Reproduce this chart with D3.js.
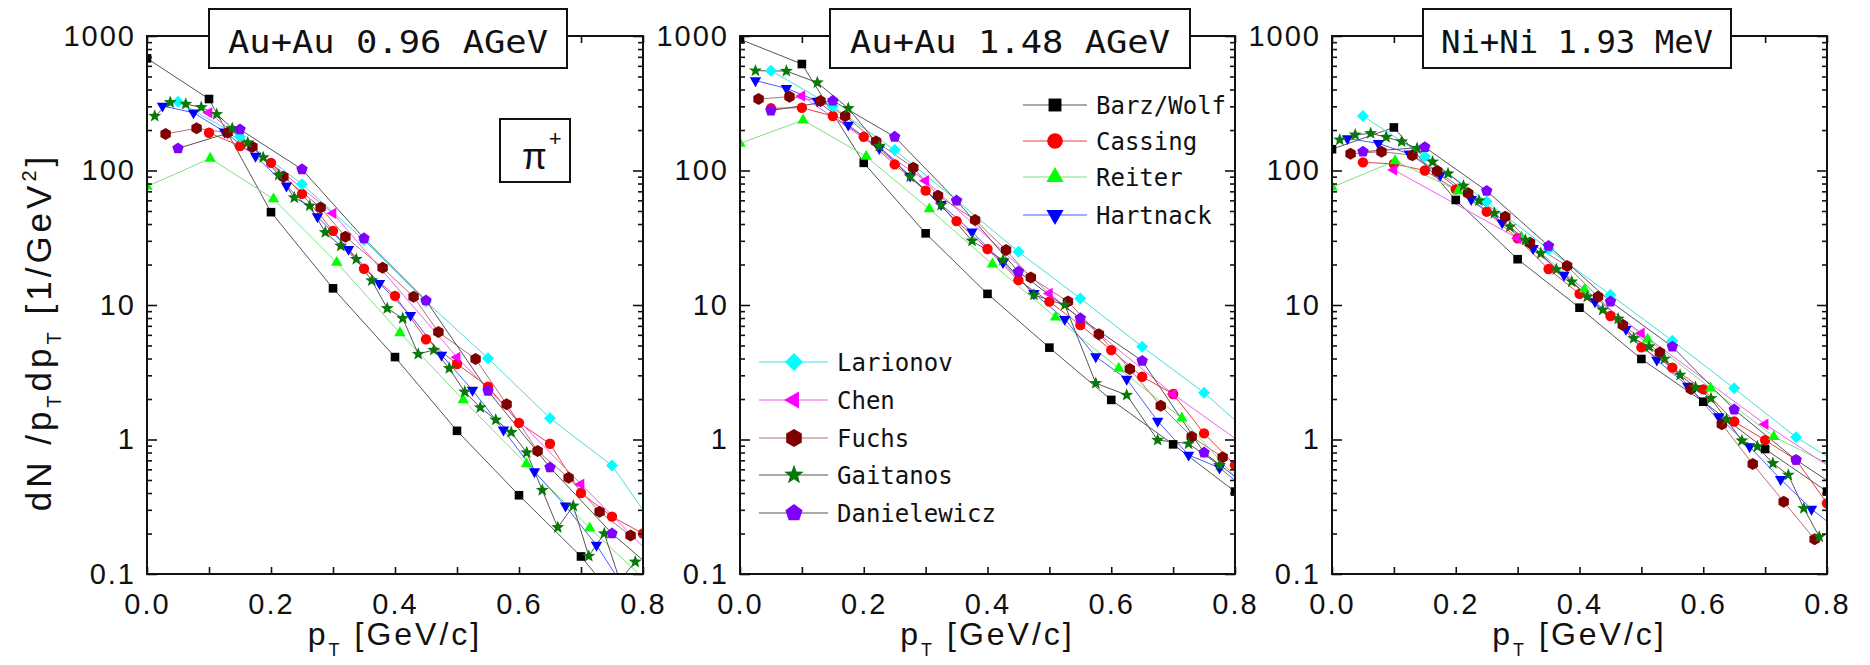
<!DOCTYPE html>
<html>
<head>
<meta charset="utf-8">
<script src="https://cdn.jsdelivr.net/npm/d3@7"></script>
<style>
  body { margin: 0; background: #ffffff; }
  svg { display: block; }
</style>
</head>
<body>
<svg id="chart" width="1870" height="665"></svg>
<script>
// ---- model names (legend order) ----
const modelNames = ["Barz/Wolf", "Cassing", "Reiter", "Hartnack", "Larionov",
                    "Chen", "Fuchs", "Gaitanos", "Danielewicz"];

// ---- panel titles ----
const panelTitles = ["Au+Au 0.96 AGeV", "Au+Au 1.48 AGeV", "Ni+Ni 1.93 MeV"];

// ---- axis ticks ----
const xTicks = [0, 0.1, 0.2, 0.3, 0.4, 0.5, 0.6, 0.7, 0.8];
const xLabelTicks = [0, 0.2, 0.4, 0.6, 0.8];
const yMajorTicks = [0.1, 1, 10, 100, 1000];

// ---- pi+ spectra, [pT (GeV/c), dN/pTdpT (1/GeV^2)] ----
// Au+Au 0.96 AGeV
const au096_barzWolf = [[0,682],[0.1,340],[0.2,49],[0.3,13.3],[0.4,4.1],[0.5,1.16],[0.6,0.385],[0.7,0.135],[0.8,0.037]];
const au096_cassing = [[0.1,191],[0.15,152],[0.2,114],[0.25,67],[0.3,35.6],[0.35,18.6],[0.4,11.7],[0.45,5.56],[0.5,3.64],[0.55,2.47],[0.6,1.33],[0.65,0.93],[0.7,0.40],[0.75,0.267],[0.8,0.2]];
const au096_reiter = [[0,76],[0.102,123],[0.204,61.4],[0.306,20.7],[0.408,6.2],[0.51,1.97],[0.612,0.657],[0.714,0.219],[0.816,0.08]];
const au096_hartnack = [[0.025,302],[0.075,269],[0.125,194],[0.175,128],[0.225,76.8],[0.275,45.4],[0.325,26],[0.375,14.5],[0.425,8.4],[0.475,4.25],[0.525,2.33],[0.575,1.18],[0.625,0.577],[0.675,0.321],[0.725,0.164],[0.775,0.072]];
const au096_larionov = [[0.05,325],[0.15,178],[0.25,79],[0.35,30.4],[0.45,10.6],[0.55,4.02],[0.65,1.44],[0.75,0.64],[0.85,0.14]];
const au096_chen = [[0.1,269],[0.3,48],[0.5,4.08],[0.7,0.465],[0.9,0.055]];
const au096_fuchs = [[0.03,187],[0.08,206],[0.13,191],[0.17,150],[0.22,90],[0.28,53],[0.32,32.2],[0.38,18.9],[0.43,11.5],[0.47,6.3],[0.53,3.97],[0.58,1.83],[0.63,0.82],[0.68,0.52],[0.73,0.29],[0.78,0.193]];
const au096_gaitanos = [[0.0125,254],[0.0375,321],[0.0625,312],[0.0875,295],[0.1125,262],[0.1375,206],[0.1625,161],[0.1875,125],[0.2125,92.7],[0.2375,62.8],[0.2625,54.7],[0.2875,34.7],[0.3125,27.5],[0.3375,21.9],[0.3625,15.2],[0.3875,9.44],[0.4125,7.96],[0.4375,4.32],[0.4625,4.63],[0.4875,3.38],[0.5125,2.26],[0.5375,1.73],[0.5625,1.40],[0.5875,1.13],[0.6125,0.80],[0.6375,0.42],[0.6625,0.222],[0.6875,0.321],[0.7125,0.136],[0.7375,0.20],[0.7625,0.09],[0.7875,0.123]];
const au096_danielewicz = [[0.05,146],[0.15,202],[0.25,102],[0.35,31.3],[0.45,10.8],[0.55,2.30],[0.65,0.62],[0.75,0.20],[0.85,0.08]];

// Au+Au 1.48 AGeV
const au148_barzWolf = [[0,945],[0.1,619],[0.2,114],[0.3,34.1],[0.4,12.1],[0.5,4.82],[0.6,1.97],[0.7,0.92],[0.8,0.41]];
const au148_cassing = [[0.05,290],[0.1,293],[0.15,254],[0.2,178],[0.25,111],[0.3,70.8],[0.35,42],[0.4,26.1],[0.45,15.3],[0.5,10.6],[0.55,7.1],[0.6,4.62],[0.65,2.93],[0.7,2.18],[0.75,1.11],[0.8,0.645]];
const au148_reiter = [[0,159],[0.102,237],[0.204,127],[0.306,51.7],[0.408,20.1],[0.51,8.1],[0.612,3.38],[0.714,1.44],[0.816,0.44]];
const au148_hartnack = [[0.025,466],[0.075,408],[0.125,329],[0.175,218],[0.225,146],[0.275,91],[0.325,56],[0.375,35],[0.425,20.7],[0.475,12.2],[0.525,7.84],[0.575,4.13],[0.625,2.81],[0.675,1.37],[0.725,0.767],[0.775,0.616],[0.825,0.4]];
const au148_larionov = [[0.05,552],[0.15,300],[0.25,142],[0.35,60],[0.45,24.9],[0.55,11.2],[0.65,4.9],[0.75,2.23],[0.85,0.87]];
const au148_chen = [[0.1,358],[0.3,84],[0.5,12.2],[0.7,2.17],[0.9,0.48]];
const au148_fuchs = [[0.03,340],[0.08,354],[0.13,329],[0.17,254],[0.22,164],[0.28,105],[0.32,65],[0.38,42.9],[0.43,25.6],[0.47,16],[0.53,10.6],[0.58,6.05],[0.63,3.34],[0.68,1.78],[0.73,1.05],[0.78,0.738]];
const au148_gaitanos = [[0.025,552],[0.075,549],[0.125,450],[0.175,290],[0.225,152],[0.275,90],[0.325,55.3],[0.375,30],[0.425,21.6],[0.475,11.9],[0.525,10],[0.575,2.62],[0.625,2.14],[0.675,0.99],[0.725,0.93],[0.775,0.645]];
const au148_danielewicz = [[0.05,279],[0.15,330],[0.25,178],[0.35,59.7],[0.45,17.7],[0.55,7.96],[0.65,3.84],[0.75,0.80],[0.85,0.35]];

// Ni+Ni 1.93 AGeV
const ni193_barzWolf = [[0,144],[0.1,209],[0.2,60.4],[0.3,21.9],[0.4,9.55],[0.5,3.97],[0.6,1.91],[0.7,0.85],[0.8,0.41]];
const ni193_cassing = [[0.05,115],[0.1,112],[0.15,100],[0.2,72.4],[0.25,49.4],[0.3,31.3],[0.35,18.5],[0.4,12.1],[0.45,8.28],[0.5,4.84],[0.55,3.42],[0.6,2.36],[0.65,1.36],[0.7,0.99],[0.75,0.705],[0.8,0.336]];
const ni193_reiter = [[0,75],[0.102,118],[0.204,70.5],[0.306,32],[0.408,13.1],[0.51,5.56],[0.612,2.41],[0.714,1.05],[0.816,0.61]];
const ni193_hartnack = [[0.025,173],[0.075,159],[0.125,133],[0.175,92.7],[0.225,61.1],[0.275,40.9],[0.325,26.4],[0.375,16.7],[0.425,10.6],[0.475,6.6],[0.525,3.9],[0.575,2.5],[0.625,1.48],[0.675,0.885],[0.725,0.506],[0.775,0.304],[0.825,0.2]];
const ni193_larionov = [[0.05,254],[0.15,127],[0.25,58.7],[0.35,26],[0.45,11.9],[0.55,5.43],[0.65,2.4],[0.75,1.04],[0.85,0.54]];
const ni193_chen = [[0.1,101],[0.3,31.3],[0.5,6.17],[0.7,1.30],[0.9,0.32]];
const ni193_fuchs = [[0.03,133],[0.08,138],[0.13,130],[0.17,99],[0.22,67.7],[0.28,45.4],[0.32,29],[0.38,19.5],[0.43,11.5],[0.47,7.1],[0.53,4.44],[0.58,2.37],[0.63,1.30],[0.68,0.658],[0.73,0.345],[0.78,0.181]];
const ni193_gaitanos = [[0.0125,169],[0.0375,184],[0.0625,189],[0.0875,177],[0.1125,164],[0.1375,146],[0.1625,116],[0.1875,95],[0.2125,76.8],[0.2375,59.7],[0.2625,48.1],[0.2875,38.2],[0.3125,30.4],[0.3375,24.2],[0.3625,18.4],[0.3875,14.9],[0.4125,11.5],[0.4375,9.19],[0.4625,7.9],[0.4875,5.65],[0.5125,4.9],[0.5375,3.97],[0.5625,3.02],[0.5875,2.44],[0.6125,2.02],[0.6375,1.41],[0.6625,0.98],[0.6875,0.885],[0.7125,0.665],[0.7375,0.545],[0.7625,0.308],[0.7875,0.189]];
const ni193_danielewicz = [[0.05,138],[0.15,149],[0.25,70.5],[0.35,27.5],[0.45,10.6],[0.55,4.9],[0.65,1.67],[0.75,0.705],[0.85,0.35]];

const panelSeries = [
  [au096_barzWolf, au096_cassing, au096_reiter, au096_hartnack, au096_larionov, au096_chen, au096_fuchs, au096_gaitanos, au096_danielewicz],
  [au148_barzWolf, au148_cassing, au148_reiter, au148_hartnack, au148_larionov, au148_chen, au148_fuchs, au148_gaitanos, au148_danielewicz],
  [ni193_barzWolf, ni193_cassing, ni193_reiter, ni193_hartnack, ni193_larionov, ni193_chen, ni193_fuchs, ni193_gaitanos, ni193_danielewicz]
];

// ---- styles per model ----
const modelSymbols = ["square", "circle", "triUp", "triDown", "diamond", "triLeft", "hexagon", "star", "pentagon"];
const modelFill = ["#000000", "#ff0000", "#00ff00", "#0000ff", "#00ffff", "#ff00ff", "#800000", "#087808", "#8000ff"];
const modelLine = ["#555555", "#e84040", "#80e080", "#4a5cff", "#48dcdc", "#f060f0", "#b87070", "#555555", "#555555"];

// ---- marker shapes ----
function polygon(n, r, startDeg) {
  const pts = [];
  for (let i = 0; i < n; i++) {
    const a = (startDeg + i * 360 / n) * Math.PI / 180;
    pts.push([r * Math.cos(a), r * Math.sin(a)]);
  }
  return "M" + pts.map(p => p[0].toFixed(2) + "," + p[1].toFixed(2)).join("L") + "Z";
}
function starPath(r) {
  const pts = [];
  for (let i = 0; i < 10; i++) {
    const a = (-90 + i * 36) * Math.PI / 180;
    const rr = i % 2 === 0 ? r : r * 0.42;
    pts.push([rr * Math.cos(a), rr * Math.sin(a)]);
  }
  return "M" + pts.map(p => p[0].toFixed(2) + "," + p[1].toFixed(2)).join("L") + "Z";
}
function markerPath(type, s) {
  switch (type) {
    case "square": { const h = 4.3 * s; return `M${-h},${-h}h${2*h}v${2*h}h${-2*h}Z`; }
    case "circle": { const r = 5.2 * s; return `M${-r},0a${r},${r} 0 1,0 ${2*r},0a${r},${r} 0 1,0 ${-2*r},0Z`; }
    case "triUp": return polygon(3, 6.6 * s, -90);
    case "triDown": return polygon(3, 6.6 * s, 90);
    case "triLeft": return polygon(3, 6.6 * s, 180);
    case "diamond": return polygon(4, 6.0 * s, -90);
    case "hexagon": return polygon(6, 6.0 * s, -90);
    case "star": return starPath(6.8 * s);
    case "pentagon": return polygon(5, 6.0 * s, -90);
  }
}

// ---- layout ----
const svg = d3.select("#chart");
const plotTop = 36, plotBottom = 574;
const panelLeft = [147, 740, 1332];
const panelRight = [643, 1235, 1827];
const titleBoxes = [[209, 567], [830, 1190], [1423, 1731]];
const titleTextWidth = [320, 320, 272];
const sansFont = "'Liberation Sans', Arial, Helvetica, sans-serif";
const monoFont = "'DejaVu Sans Mono', 'Liberation Mono', monospace";

panelSeries.forEach((series, p) => {
  const x = d3.scaleLinear().domain([0, 0.8]).range([panelLeft[p], panelRight[p]]);
  const y = d3.scaleLog().domain([0.1, 1000]).range([plotBottom, plotTop]);
  const g = svg.append("g");

  const clipId = "clip" + p;
  svg.append("defs").append("clipPath").attr("id", clipId)
    .append("rect")
    .attr("x", panelLeft[p]).attr("y", plotTop)
    .attr("width", panelRight[p] - panelLeft[p]).attr("height", plotBottom - plotTop);

  const data = g.append("g").attr("clip-path", `url(#${clipId})`);
  const line = d3.line().x(d => x(d[0])).y(d => y(d[1]));

  series.forEach((pts, m) => {
    data.append("path")
      .attr("d", line(pts))
      .attr("fill", "none")
      .attr("stroke", modelLine[m])
      .attr("stroke-width", 1);
  });
  series.forEach((pts, m) => {
    data.selectAll(null).data(pts).join("path")
      .attr("transform", d => `translate(${x(d[0])},${y(d[1])})`)
      .attr("d", markerPath(modelSymbols[m], 1))
      .attr("fill", modelFill[m]);
  });

  // axes with inward ticks
  const minorY = [];
  [0.1, 1, 10, 100].forEach(dec => { for (let k = 2; k <= 9; k++) minorY.push(k * dec); });
  const clean = a => a.call(s => s.select(".domain").remove());

  g.append("g").attr("transform", `translate(0,${plotBottom})`)
    .call(d3.axisBottom(x).tickValues(xTicks).tickSizeInner(-7).tickSizeOuter(0).tickPadding(19)
      .tickFormat(d => xLabelTicks.some(v => Math.abs(v - d) < 1e-9) ? d3.format(".1f")(d) : ""))
    .call(clean);
  g.append("g").attr("transform", `translate(0,${plotTop})`)
    .call(d3.axisTop(x).tickValues(xTicks).tickSizeInner(-7).tickSizeOuter(0).tickFormat(""))
    .call(clean);
  g.append("g").attr("transform", `translate(${panelLeft[p]},0)`)
    .call(d3.axisLeft(y).tickValues(yMajorTicks).tickSizeInner(-10).tickSizeOuter(0).tickPadding(11)
      .tickFormat(d => d < 1 ? "0.1" : String(d)))
    .call(clean);
  g.append("g").attr("transform", `translate(${panelLeft[p]},0)`)
    .call(d3.axisLeft(y).tickValues(minorY).tickSizeInner(-5).tickSizeOuter(0).tickFormat(""))
    .call(clean);
  g.append("g").attr("transform", `translate(${panelRight[p]},0)`)
    .call(d3.axisRight(y).tickValues(yMajorTicks).tickSizeInner(-10).tickSizeOuter(0).tickFormat(""))
    .call(clean);
  g.append("g").attr("transform", `translate(${panelRight[p]},0)`)
    .call(d3.axisRight(y).tickValues(minorY).tickSizeInner(-5).tickSizeOuter(0).tickFormat(""))
    .call(clean);

  g.selectAll(".tick line").attr("stroke", "#111").attr("stroke-width", 1.6);
  g.selectAll(".tick text")
    .attr("font-family", sansFont).attr("font-size", 29)
    .attr("letter-spacing", "2px").attr("fill", "#111");

  // frame
  g.append("rect")
    .attr("x", panelLeft[p]).attr("y", plotTop)
    .attr("width", panelRight[p] - panelLeft[p]).attr("height", plotBottom - plotTop)
    .attr("fill", "none").attr("stroke", "#111").attr("stroke-width", 2);

  // title box
  const [bx0, bx1] = titleBoxes[p];
  g.append("rect")
    .attr("x", bx0).attr("y", 9).attr("width", bx1 - bx0).attr("height", 59)
    .attr("fill", "#fff").attr("stroke", "#111").attr("stroke-width", 2);
  g.append("text")
    .attr("x", (bx0 + bx1) / 2).attr("y", 53)
    .attr("text-anchor", "middle")
    .attr("font-family", monoFont).attr("font-size", 32)
    .attr("textLength", titleTextWidth[p]).attr("lengthAdjust", "spacingAndGlyphs")
    .attr("fill", "#111")
    .text(panelTitles[p]);

  // x axis title
  const xt = g.append("text")
    .attr("x", (panelLeft[p] + panelRight[p]) / 2).attr("y", 645)
    .attr("text-anchor", "middle")
    .attr("font-family", sansFont).attr("font-size", 32)
    .attr("letter-spacing", "3px").attr("fill", "#111");
  xt.append("tspan").text("p");
  xt.append("tspan").attr("font-size", 18).attr("dy", 11).text("T");
  xt.append("tspan").attr("dy", -11).text("\u00a0[GeV/c]");
});

// y axis title
const yt = svg.append("text")
  .attr("transform", "translate(51,332) rotate(-90)")
  .attr("text-anchor", "middle")
  .attr("font-family", sansFont).attr("font-size", 35)
  .attr("letter-spacing", "4px").attr("fill", "#111");
yt.append("tspan").text("dN /p");
yt.append("tspan").attr("font-size", 20).attr("dy", 10).text("T");
yt.append("tspan").attr("dy", -10).text("dp");
yt.append("tspan").attr("font-size", 20).attr("dy", 10).text("T");
yt.append("tspan").attr("dy", -10).text("\u00a0[1/GeV");
yt.append("tspan").attr("font-size", 20).attr("dy", -15).text("2");
yt.append("tspan").attr("dy", 15).text("]");

// pi+ label
svg.append("rect").attr("x", 500).attr("y", 119).attr("width", 70).attr("height", 63)
  .attr("fill", "#fff").attr("stroke", "#111").attr("stroke-width", 2);
const pi = svg.append("text").attr("x", 522).attr("y", 169)
  .attr("font-family", sansFont).attr("font-size", 36).attr("fill", "#111");
pi.append("tspan").text("\u03c0");
pi.append("tspan").attr("font-size", 22).attr("dy", -23).attr("dx", 2).text("+");

// legend: two groups inside the middle panel
const legendGroups = [
  { members: [0, 1, 2, 3], x0: 1023, x1: 1087, mx: 1055, tx: 1096, rows: [105, 141, 177, 215] },
  { members: [4, 5, 6, 7, 8], x0: 759, x1: 828, mx: 794, tx: 837, rows: [362, 400, 438, 475, 513] }
];
legendGroups.forEach(grp => {
  grp.members.forEach((m, i) => {
    const yy = grp.rows[i];
    svg.append("line").attr("x1", grp.x0).attr("x2", grp.x1).attr("y1", yy).attr("y2", yy)
      .attr("stroke", modelLine[m]).attr("stroke-width", 1.2);
    svg.append("path").attr("transform", `translate(${grp.mx},${yy})`)
      .attr("d", markerPath(modelSymbols[m], 1.5)).attr("fill", modelFill[m]);
    svg.append("text").attr("x", grp.tx).attr("y", yy + 9)
      .attr("font-family", monoFont).attr("font-size", 24).attr("fill", "#111")
      .text(modelNames[m]);
  });
});
</script>
</body>
</html>
